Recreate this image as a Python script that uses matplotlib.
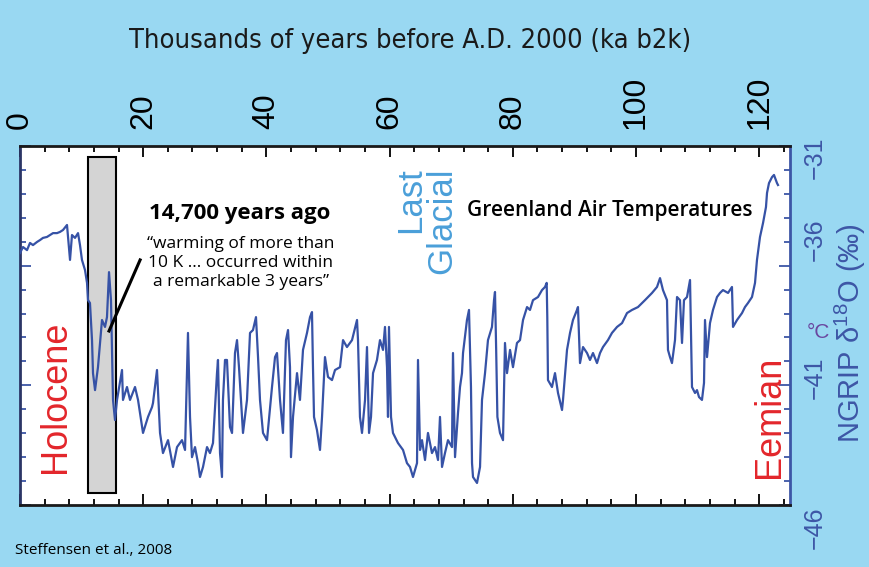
import matplotlib
matplotlib.use("Agg")
import matplotlib.pyplot as plt
import matplotlib.transforms as mtransforms
from matplotlib.patches import Rectangle
from matplotlib.ticker import MultipleLocator, FixedLocator

# NGRIP d18O record (age in ka b2k, d18O in permil)
age_ka = [
    0.00, 0.49, 1.14, 1.62, 2.11, 2.76, 3.25, 3.73, 4.38, 4.87, 5.36, 6.01, 6.49, 6.98,
    7.63, 8.12, 8.44, 8.93, 9.42, 9.74, 10.06, 10.55, 10.88, 11.04, 11.36, 11.69, 11.85,
    12.18, 12.66, 12.99, 13.31, 13.80, 14.12, 14.45, 14.77, 14.94, 15.10, 15.42, 15.75,
    16.56, 16.72, 17.37, 17.86, 18.67, 19.16, 19.97, 20.78, 21.43, 21.59, 22.24, 22.73,
    23.21, 24.03, 24.84, 25.49, 26.30, 26.79, 27.27, 27.60, 27.92, 28.41, 28.90, 29.22,
    29.71, 30.36, 30.84, 31.33, 31.98, 32.14, 32.47, 32.79, 32.95, 33.28, 33.60, 34.09,
    34.42, 34.90, 35.23, 35.55, 36.04, 36.20, 36.85, 37.34, 37.82, 38.31, 38.64, 38.96,
    39.45, 40.10, 40.91, 41.40, 41.72, 42.21, 42.69, 43.18, 43.51, 43.83, 43.99, 44.32,
    44.97, 45.45, 45.94, 46.59, 47.08, 47.40, 47.56, 47.73, 48.21, 48.70, 49.03, 49.51,
    50.00, 50.65, 51.14, 51.95, 52.44, 53.08, 53.90, 54.71, 54.87, 55.19, 55.52, 56.01,
    56.33, 56.66, 56.98, 57.31, 57.95, 58.44, 58.93, 59.25, 59.58, 59.74, 59.90, 60.23,
    60.55, 61.36, 62.18, 62.82, 63.31, 63.80, 64.45, 64.61, 64.94, 65.26, 65.75, 66.23,
    66.88, 67.37, 67.86, 68.18, 68.51, 68.99, 69.48, 70.13, 70.29, 70.62, 71.10, 71.43,
    71.75, 71.92, 72.56, 72.89, 73.21, 73.38, 73.54, 74.19, 74.68, 75.00, 75.49, 75.97,
    76.62, 76.95, 77.11, 77.30, 77.50, 77.92, 78.41, 78.73, 79.06, 79.55, 80.03, 80.68,
    81.17, 81.66, 82.31, 82.79, 83.28, 84.09, 84.74, 85.23, 85.50, 85.60, 85.71, 86.36,
    86.85, 87.34, 87.99, 88.15, 88.80, 89.29, 89.77, 90.42, 90.58, 90.91, 91.40, 92.05,
    92.53, 93.02, 93.67, 94.16, 94.64, 95.45, 96.10, 96.92, 97.73, 98.54, 99.35, 100.32,
    101.46, 102.60, 103.41, 103.90, 104.38, 105.03, 105.19, 105.52, 105.84, 106.33,
    106.66, 107.14, 107.47, 107.79, 108.28, 108.77, 109.09, 109.58, 109.90, 110.23,
    110.71, 111.04, 111.20, 111.53, 112.01, 112.50, 113.15, 113.64, 114.12, 114.94,
    115.58, 115.75, 116.40, 117.21, 117.69, 118.18, 118.83, 119.32, 119.64, 120.13,
    120.62, 121.10, 121.27, 121.59, 122.08, 122.40, 122.89, 123.05,
]
d18o = [
    -35.47, -35.22, -35.35, -35.05, -35.14, -35.01, -34.93, -34.84, -34.80, -34.72, -34.64, -34.64, -34.59, -34.51,
    -34.30, -35.76, -34.72, -34.84, -34.64, -35.14, -35.76, -36.18, -36.72, -37.44, -37.56, -39.11, -40.49,
    -41.20, -40.24, -39.23, -38.27, -38.56, -38.15, -36.27, -37.44, -39.52, -41.61, -42.45, -41.61,
    -40.36, -41.61, -41.07, -41.61, -41.07, -41.61, -42.99, -42.32, -41.91, -41.74, -40.36, -42.99,
    -43.83, -43.29, -44.41, -43.58, -43.29, -43.70, -38.81, -42.32, -44.00, -43.58, -44.25, -44.83,
    -44.41, -43.58, -43.83, -43.41, -40.49, -39.94, -43.83, -44.83, -41.61, -39.94, -39.94, -42.74,
    -42.99, -39.65, -39.11, -40.24, -42.32, -42.99, -41.61, -38.81, -38.69, -38.15, -39.82, -41.61,
    -42.99, -43.29, -41.07, -39.82, -39.65, -41.61, -42.99, -39.11, -38.69, -40.24, -44.00, -42.32,
    -40.49, -41.61, -39.52, -38.81, -38.15, -37.94, -40.24, -42.32, -42.87, -43.70, -42.32, -39.82,
    -40.65, -40.78, -40.36, -40.24, -39.11, -39.40, -39.11, -38.27, -39.11, -42.32, -42.99, -41.61,
    -39.40, -42.99, -42.32, -40.49, -39.94, -39.11, -39.52, -38.56, -40.24, -42.32, -38.56, -42.32,
    -42.99, -43.41, -43.70, -44.25, -44.41, -44.83, -44.25, -39.94, -43.70, -43.29, -44.12, -42.99,
    -43.83, -43.58, -44.12, -42.32, -44.41, -43.83, -43.29, -43.58, -39.65, -44.00, -42.16, -41.07,
    -40.49, -39.65, -38.27, -37.85, -41.07, -44.25, -44.83, -45.08, -44.41, -41.61, -40.49, -39.11,
    -38.56, -37.44, -37.10, -39.52, -42.32, -42.99, -43.29, -39.23, -40.49, -39.52, -40.24, -39.23,
    -39.11, -38.27, -37.73, -37.85, -37.44, -37.31, -37.02, -36.89, -36.72, -38.15, -40.78, -41.07,
    -40.49, -41.32, -42.03, -41.61, -39.52, -38.81, -38.27, -37.85, -37.73, -40.07, -39.40, -39.65,
    -39.94, -39.65, -40.07, -39.65, -39.40, -39.11, -38.81, -38.56, -38.40, -37.98, -37.85, -37.73,
    -37.44, -37.14, -36.89, -36.52, -37.02, -37.44, -39.52, -39.82, -40.07, -39.11,
    -37.31, -37.44, -39.23, -37.44, -37.31, -36.60, -41.07, -41.32, -41.20, -41.49,
    -41.61, -40.90, -38.27, -39.82, -38.40, -37.85, -37.31, -37.14, -37.02, -37.14,
    -36.89, -38.56, -38.27, -37.98, -37.73, -37.56, -37.31, -36.72, -35.76, -34.80,
    -34.22, -33.55, -32.96, -32.55, -32.30, -32.21, -32.55, -32.63,
]

x_ticks = [0, 20, 40, 60, 80, 100, 120]
y_ticks = [-46, -41, -36, -31]
y_tick_labels = ["\u221246", "\u221241", "\u221236", "\u221231"]
# the right-hand labels sit a little off their ticks in the original (pixels, + = down)
y_label_shift = [23, -8, -26, 12]

# grey box around the 14.7 ka warming
box_age = (11.0, 15.6)
box_d18o = (-45.48, -31.46)
pointer_age = [14.45, 19.5]
pointer_d18o = [-38.73, -35.76]

bg = "#99d8f2"
line_blue = "#3652a6"
axis_blue = "#3d56a6"
red = "#e3262b"
light_blue = "#4a9fd9"
purple = "#6a47a0"
sans = ["Liberation Sans", "DejaVu Sans"]
myriad = ["Open Sans", "DejaVu Sans"]

plt.rcParams["font.family"] = sans
plt.rcParams["mathtext.fontset"] = "custom"
plt.rcParams["mathtext.rm"] = "Liberation Sans"

fig = plt.figure(figsize=(8.7, 5.67), dpi=100, facecolor=bg)
ax = fig.add_axes([20 / 870, 1 - 505 / 567, 770 / 870, 359 / 567])
ax.set_facecolor("white")

ax.add_patch(Rectangle((box_age[0], box_d18o[0]), box_age[1] - box_age[0],
                       box_d18o[1] - box_d18o[0], facecolor="#d4d4d4",
                       edgecolor="black", lw=1.5, zorder=1))
ax.plot(age_ka, d18o, color=line_blue, lw=1.6, zorder=3)
ax.plot(pointer_age, pointer_d18o, color="black", lw=2.2, zorder=4)

ax.set_xlim(0, 125)
ax.set_ylim(-46, -31)

ax.xaxis.set_major_locator(FixedLocator(x_ticks))
ax.xaxis.set_minor_locator(MultipleLocator(4))
ax.yaxis.set_major_locator(FixedLocator(y_ticks))
ax.yaxis.set_minor_locator(MultipleLocator(1))
ax.tick_params(axis="x", which="both", direction="in", top=True, bottom=True,
               labeltop=True, labelbottom=False, colors="black", width=1.3)
ax.tick_params(axis="x", which="major", length=8, labelsize=23, labelrotation=90, pad=12)
ax.tick_params(axis="x", which="minor", length=4)
ax.tick_params(axis="y", which="both", direction="in", left=True, right=True,
               labelleft=False, labelright=False, color=axis_blue, width=1.3)
ax.tick_params(axis="y", which="major", length=8)
ax.tick_params(axis="y", which="minor", length=4)

for side in ["top", "bottom"]:
    ax.spines[side].set_color("#1a1a1a")
    ax.spines[side].set_linewidth(2)
ax.spines["left"].set_color("#2b3566")
ax.spines["left"].set_linewidth(2)
ax.spines["right"].set_color(axis_blue)
ax.spines["right"].set_linewidth(2)

# right-hand tick labels
ytrans = mtransforms.blended_transform_factory(ax.transAxes, ax.transData)
for val, lab, dy in zip(y_ticks, y_tick_labels, y_label_shift):
    off = mtransforms.ScaledTranslation(13 / 100, -dy / 100, fig.dpi_scale_trans)
    ax.text(1.0, val, lab, transform=ytrans + off, rotation=90, ha="left",
            va="center", color=axis_blue, fontsize=18, clip_on=False)

fig.text(818 / 870, 1 - 332 / 567, "\u00b0C", color=purple, fontsize=15,
         ha="center", va="center")
fig.text(850 / 870, 1 - 333 / 567, "NGRIP \u03b4$^{18}$O (\u2030)", rotation=90,
         ha="center", va="center", color=axis_blue, fontsize=21)

fig.text(410 / 870, 1 - 48 / 567, "Thousands of years before A.D. 2000 (ka b2k)",
         family="DejaVu Sans", fontstretch="condensed", fontsize=19.5,
         ha="center", va="baseline", color="#1a1a1a")

ax.text(0.0455, 0.30, "Holocene", transform=ax.transAxes, rotation=90,
        ha="center", va="center", color=red, fontsize=26)
ax.text(0.973, 0.245, "Eemian", transform=ax.transAxes, rotation=90,
        ha="center", va="center", color=red, fontsize=26)
ax.text(0.507, 0.9415, "Last", transform=ax.transAxes, rotation=90,
        ha="center", va="top", color=light_blue, fontsize=25)
ax.text(0.548, 0.9415, "Glacial", transform=ax.transAxes, rotation=90,
        ha="center", va="top", color=light_blue, fontsize=25)

ax.text(0.766, 0.819, "Greenland Air Temperatures", transform=ax.transAxes,
        ha="center", va="center", family=myriad, weight="semibold", fontsize=15)
ax.text(0.2857, 0.811, "14,700 years ago", transform=ax.transAxes,
        ha="center", va="center", family=myriad, weight="bold", fontsize=16)
ax.text(0.287, 0.674, "\u201cwarming of more than\n10 K ... occurred within\n"
        "a remarkable 3 years\u201d", transform=ax.transAxes, ha="center",
        va="center", family=myriad, fontsize=12.5, linespacing=1.25)

fig.text(15 / 870, 1 - 551 / 567, "Steffensen et al., 2008", family=myriad,
         fontsize=11, ha="left", va="center")

fig.savefig("out.png", dpi=100, facecolor=bg)
